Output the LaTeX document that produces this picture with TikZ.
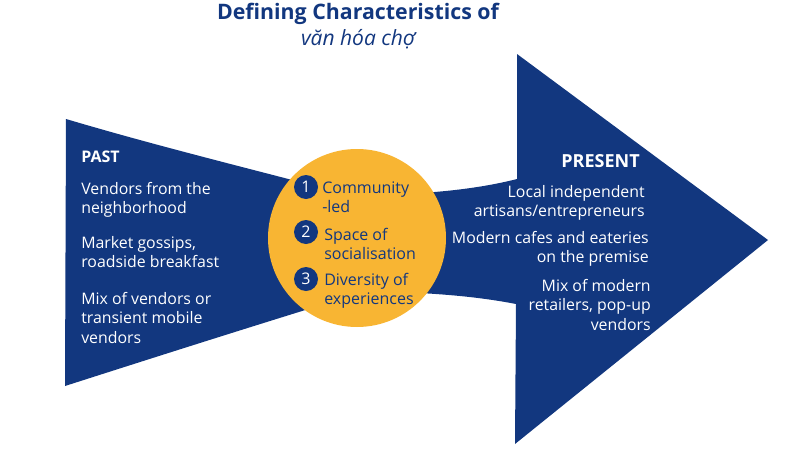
\documentclass[tikz,border=0pt]{standalone}
\usepackage{fontspec}
\setmainfont{Open Sans}
\definecolor{navy}{HTML}{12377F}
\definecolor{gold}{HTML}{F8B533}
\tikzset{
  px/.style={x=0.75pt,y=-0.75pt},
  body/.style={text=white,font=\fontsize{11.9pt}{14.4pt}\selectfont,inner sep=0pt},
  inner/.style={text=navy,font=\fontsize{12pt}{14.4pt}\selectfont,inner sep=0pt,align=left,anchor=west},
  badge/.style={circle,fill=navy,text=white,minimum size=18pt,inner sep=0pt,font=\fontsize{12pt}{12pt}\selectfont},
}
\begin{document}
\begin{tikzpicture}[px]
\useasboundingbox (0,0) rectangle (800,450);
\fill[navy] (66,119) .. controls (140,141) and (215,160) .. (300,182) -- (315,307) .. controls (215,338) and (140,362) .. (65,386) -- cycle;
\fill[navy] (420,193) .. controls (455,191) and (490,186) .. (517,179) -- (517,54) -- (768,240) -- (515,444) -- (516,304) .. controls (485,298) and (455,295) .. (420,293) -- cycle;
\node[circle,fill=gold,minimum size=133.5pt,inner sep=0pt] (hub) at (357,238) {};
\node[text=navy,font=\bfseries\fontsize{16pt}{18pt}\selectfont,inner sep=0pt] (title) at (358,14) {Defining Characteristics of};
\node[text=navy,font=\itshape\fontsize{15.75pt}{18pt}\selectfont,inner sep=0pt] (sub) at (358,39) {văn hóa chợ};
\node[body,font=\bfseries\fontsize{12pt}{14pt}\selectfont,anchor=west] (past) at (81,157) {PAST};
\node[body,align=left,anchor=west] (p1) at (81,200) {Vendors from the\\neighborhood};
\node[body,align=left,anchor=west] (p2) at (81,252) {Market gossips,\\roadside breakfast};
\node[body,align=left,anchor=west] (p3) at (81,318) {Mix of vendors or\\transient mobile\\vendors};
\node[body,font=\bfseries\fontsize{13.5pt}{15pt}\selectfont,anchor=east] (present) at (640,161) {PRESENT};
\node[body,align=right,anchor=east] (r1) at (645,203) {Local independent\\artisans/entrepreneurs};
\node[body,align=right,anchor=east] (r2) at (649,249) {Modern cafes and eateries\\on the premise};
\node[body,align=right,anchor=east] (r3) at (651,305) {Mix of modern\\retailers, pop-up\\vendors};
\node[badge] (b1) at (306,187) {1};
\node[badge] (b2) at (306,232) {2};
\node[badge] (b3) at (306,279) {3};
\node[inner] (t1) at (322,197) {Community\\-led};
\node[inner] (t2) at (324,244) {Space of\\socialisation};
\node[inner] (t3) at (324,291) {Diversity of\\experiences};
\end{tikzpicture}
\end{document}
